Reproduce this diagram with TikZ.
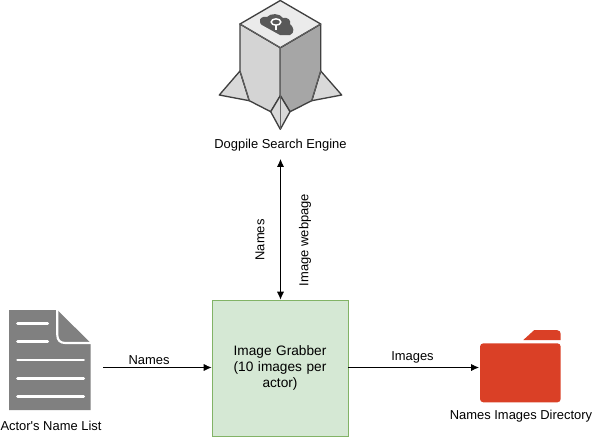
\documentclass[tikz,border=0pt]{standalone}
\usepackage{fontspec}
\setmainfont{Liberation Sans}
\usetikzlibrary{arrows.meta}
\usetikzlibrary{positioning}
\tikzset{>={Latex[length=2.1mm,width=1.9mm]}}
\definecolor{boxfill}{HTML}{D5E8D4}
\definecolor{boxline}{HTML}{82B366}
\definecolor{docgrey}{HTML}{808080}
\definecolor{folderred}{HTML}{DA4026}
\tikzset{
    label text/.style={font=\fontsize{9.7}{11}\selectfont, inner sep=0},
    link/.style={draw=black, line width=0.6pt},
    hull/.style={draw=black!75, line width=1pt, line join=round},
    seam/.style={draw=black!60, line width=0.5pt},
}
\begin{document}
\begin{tikzpicture}[x=0.75pt,y=-0.75pt]
		\useasboundingbox (0,0) rectangle (592,437);
		% search engine icon
		\fill[black!15, hull] (240,71) -- (219.3,95) -- (249.3,100.7) -- cycle;
		\fill[black!15, hull] (320.7,71) -- (341.7,95) -- (311.7,100.7) -- cycle;
		\fill[black!17, hull] (240,24) -- (280.3,47.7) -- (280.3,95.7) -- (270.7,111.7) -- (249.3,100.7) -- (240,71) -- cycle;
		\fill[black!35, hull] (320.7,24) -- (280.3,47.7) -- (280.3,95.7) -- (290,111.7) -- (311.7,100.7) -- (320.7,71) -- cycle;
		\fill[black!15, hull] (280.3,95.7) -- (270.7,111.7) -- (280.3,129.3) -- (290,111.7) -- cycle;
		\fill[black!8, hull] (280.3,0.5) -- (320.7,24) -- (280.3,47.7) -- (240,24) -- cycle;
		\draw[seam] (240,24) -- (280.3,47.7) -- (320.7,24);
		\draw[seam] (280.3,47.7) -- (280.3,95.7);
		\draw[seam] (240,71) -- (249.3,100.7);
		\draw[seam] (320.7,71) -- (311.7,100.7);
		\draw[seam] (280.3,95.7) -- (280.3,129.3);
		\fill[black!65] (260,22) .. controls (259,18) and (263,16) .. (267,17) .. controls (270,13) and (280,13) .. (283,18) .. controls (288,17) and (291,20) .. (290,24) .. controls (294,27) and (295,33) .. (290,35) -- (280,35) -- (262,25) .. controls (261,24.5) and (260,23) .. (260,22) -- cycle;
		\draw[white, line width=1.1pt] (276,22) ellipse (4.8 and 3.2);
		\draw[white, line width=1.2pt] (276,25.5) -- (276,30);
		\node[label text] (engine) at (280.5,145) {Dogpile Search Engine};
		% name list icon
		\fill[docgrey] (9,310) -- (57.3,310) -- (90.7,343) -- (90.7,410) -- (9,410) -- cycle;
		\draw[white, line width=1.6pt] (57.3,309) -- (57.3,335) .. controls (57.3,340) and (60,343) .. (65.3,343) -- (91,343);
		\foreach \ypos/\xend in {323.3/47.7, 341.3/47.7, 360/83.7, 378.3/83.7, 396.7/83.7}
			\draw[white, line width=2pt, line cap=round] (17.5,\ypos) -- (\xend,\ypos);
		\node[label text] (list) at (51,425.5) {Actor\textquotesingle s Name List};
		% directory icon
		\fill[folderred, rounded corners=2.5pt] (480,402.3) -- (480,343.3) -- (560.7,343.3) -- (560.7,402.3) -- cycle;
		\fill[folderred] (523.3,340) -- (534.3,330) -- (556.7,330) .. controls (559.5,330) and (560.7,332) .. (560.7,334) -- (560.7,340) -- cycle;
		\node[label text] (directory) at (521,416.5) {Names Images Directory};
		% grabber box
		\node[draw=boxline, fill=boxfill, line width=0.6pt, minimum width=102pt, minimum height=102pt, inner sep=0, align=center, font=\fontsize{10.25}{12.2}\selectfont, text width=80pt] (grabber) at (280,368) {Image Grabber\\(10 images per\\actor)};
		% connector ends
		\coordinate (listend) at (103,367.5);
		\coordinate (folderend) at (479,367.5);
		\coordinate (engineend) at (280.5,159);
		\draw[link, <->] (engineend) -- (engineend |- grabber.north);
		\draw[link, ->] (listend) -- (listend -| grabber.west);
		\draw[link, ->] (folderend -| grabber.east) -- (folderend);
		\node[label text] (namesa) at (149,360) {Names};
		\node[label text] (imagesa) at (412.5,357) {Images};
		\node[label text, rotate=90] (namesb) at (260,240) {Names};
		\node[label text, rotate=90] (webpage) at (305,240) {Image webpage};
	\end{tikzpicture}
\end{document}
